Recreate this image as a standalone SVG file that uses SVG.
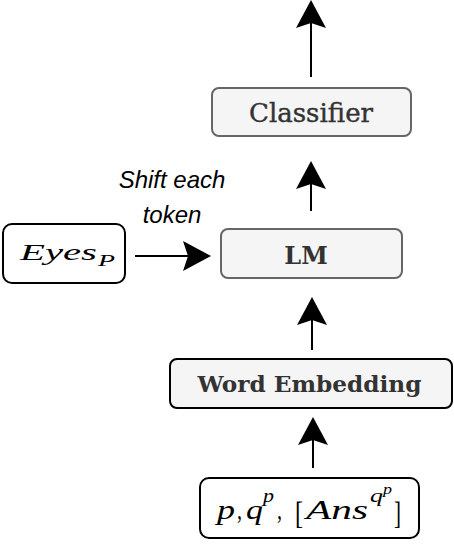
<svg xmlns="http://www.w3.org/2000/svg" width="454" height="545" viewBox="0 0 454 545">
  <style>
    .box { stroke-width: 2; }
    .gray { fill: #f5f5f5; stroke: #666666; }
    .dark { fill: #f5f5f5; stroke: #000000; }
    .white { fill: #ffffff; stroke: #000000; }
    .slab { font-family: "DejaVu Serif", serif; fill: #333333; text-anchor: middle; }
    .math { font-family: "Liberation Serif", serif; fill: #000000; }
    .it { font-style: italic; }
    .label { font-family: "Liberation Sans", Arial, sans-serif; font-style: italic; font-size: 24px; fill: #000000; text-anchor: middle; }
    .edge { stroke: #000000; stroke-width: 2; fill: none; marker-end: url(#arrow); }
  </style>
  <defs>
    <marker id="arrow" markerUnits="userSpaceOnUse" markerWidth="29" markerHeight="30" viewBox="0 0 29 30" refX="5" refY="15" orient="auto">
      <path d="M0,0 L28,15 L0,30 L5,15 Z" fill="#000000"/>
    </marker>
  </defs>

  <g id="connectors">
    <line class="edge" x1="311" y1="77" x2="311" y2="23"/>
    <line class="edge" x1="311" y1="211" x2="311" y2="184"/>
    <line class="edge" x1="312" y1="350" x2="312" y2="320"/>
    <line class="edge" x1="313" y1="468" x2="313" y2="440"/>
    <line class="edge" x1="135" y1="256" x2="188" y2="256"/>
  </g>

  <g id="classifier">
    <rect class="box gray" x="212" y="88" width="199" height="48" rx="7"/>
    <text class="slab" x="311" y="122" font-size="25.5" stroke="#333333" stroke-width="0.4" textLength="124" lengthAdjust="spacingAndGlyphs">Classifier</text>
  </g>

  <g id="lm">
    <rect class="box gray" x="221" y="229" width="181" height="49" rx="7"/>
    <text class="slab" x="306" y="264" font-size="24" font-weight="bold">LM</text>
  </g>

  <g id="eyes">
    <rect class="box white" x="3" y="224" width="122" height="59" rx="9"/>
    <text class="math it" x="20" y="260" font-size="24" textLength="77" lengthAdjust="spacingAndGlyphs">Eyes</text>
    <text class="math it" x="98" y="266" font-size="17" textLength="17" lengthAdjust="spacingAndGlyphs">P</text>
  </g>

  <g id="shift-label">
    <text class="label" x="172" y="188">Shift each</text>
    <text class="label" x="172" y="223">token</text>
  </g>

  <g id="word-embedding">
    <rect class="box dark" x="170" y="359" width="282" height="49" rx="7"/>
    <text class="slab" x="309.5" y="392" font-size="22.5" font-weight="bold" textLength="224" lengthAdjust="spacingAndGlyphs">Word Embedding</text>
  </g>

  <g id="input">
    <rect class="box white" x="200" y="478" width="219" height="60" rx="9"/>
    <text class="math it" x="217" y="519" font-size="27" textLength="18" lengthAdjust="spacingAndGlyphs">p</text>
    <text class="math" x="237" y="519" font-size="27" textLength="5" lengthAdjust="spacingAndGlyphs">,</text>
    <text class="math it" x="246" y="519" font-size="27" textLength="17" lengthAdjust="spacingAndGlyphs">q</text>
    <text class="math it" x="263" y="502" font-size="19" textLength="11" lengthAdjust="spacingAndGlyphs">p</text>
    <text class="math" x="277" y="519" font-size="27" textLength="5" lengthAdjust="spacingAndGlyphs">,</text>
    <text class="math" x="295" y="524" font-size="32" textLength="8" lengthAdjust="spacingAndGlyphs">[</text>
    <text class="math it" x="306" y="519" font-size="27" textLength="62" lengthAdjust="spacingAndGlyphs">Ans</text>
    <text class="math it" x="370" y="502" font-size="19" textLength="13" lengthAdjust="spacingAndGlyphs">q</text>
    <text class="math it" x="383" y="494" font-size="14" textLength="9" lengthAdjust="spacingAndGlyphs">p</text>
    <text class="math" x="394" y="524" font-size="32" textLength="7" lengthAdjust="spacingAndGlyphs">]</text>
  </g>
</svg>
